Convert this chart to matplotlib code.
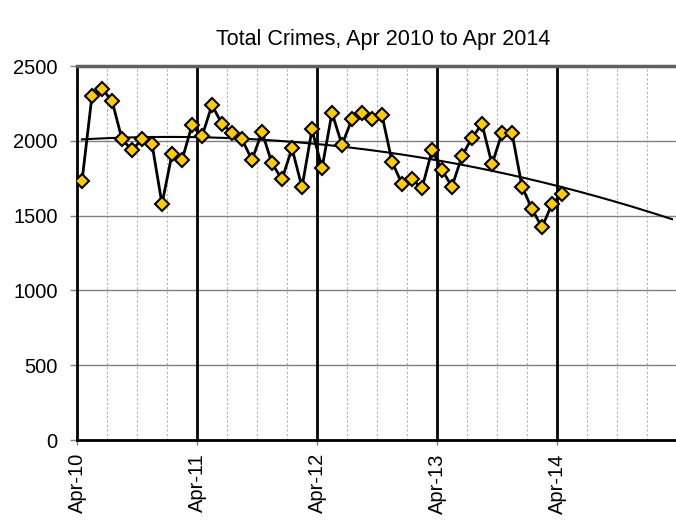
import matplotlib
matplotlib.use("Agg")
import matplotlib.pyplot as plt
import numpy as np
from matplotlib.ticker import MultipleLocator

# Monthly total crimes, Apr 2010 .. Apr 2014
crimes = [1731, 2301, 2346, 2268, 2010, 1938, 2010, 1979, 1578, 1912, 1872, 2103,
          2030, 2239, 2112, 2054, 2010, 1872, 2059, 1849, 1743, 1950, 1689, 2076,
          1816, 2188, 1972, 2146, 2188, 2146, 2172, 1861, 1711, 1743, 1683, 1936,
          1805, 1694, 1898, 2021, 2112, 1843, 2052, 2052, 1694, 1544, 1421, 1578,
          1644]
year_labels = ["Apr-10", "Apr-11", "Apr-12", "Apr-13", "Apr-14"]
title = "Total Crimes, Apr 2010 to Apr 2014"
n_months_axis = 60
forecast = 11

plt.rcParams['font.family'] = ['Liberation Sans', 'DejaVu Sans']

fig = plt.figure(figsize=(6.76, 5.21), dpi=100)
ax = fig.add_axes([77/676, 81/521, 600/676, 374/521])

x = np.arange(len(crimes)) + 0.5

# polynomial (order 2) trendline with forward forecast
coef = np.polyfit(np.arange(1, len(crimes) + 1), crimes, 2)
xt_idx = np.linspace(1, len(crimes) + forecast, 200)
ax.plot(xt_idx - 0.5, np.polyval(coef, xt_idx), color='black', lw=1.5, zorder=3)

ax.plot(x, crimes, color='black', lw=2, marker='D', markersize=7.5,
        markerfacecolor='#FFCC00', markeredgecolor='black', markeredgewidth=1.5,
        zorder=4)

ax.set_xlim(0, n_months_axis)
ax.set_ylim(0, 2500)
ax.yaxis.set_major_locator(MultipleLocator(500))
ax.set_xticks(np.arange(0, len(year_labels) * 12, 12))
ax.set_xticklabels(year_labels, rotation=90)
ax.set_xticks(np.arange(0, n_months_axis + 1, 3), minor=True)

ax.grid(axis='y', which='major', color='#808080', lw=1)
ax.grid(axis='x', which='minor', color='#B0B0B0', lw=0.8, ls=(0, (2, 2)))
for yr in range(12, n_months_axis, 12):
    ax.axvline(yr, color='black', lw=2, zorder=2)
ax.set_axisbelow(True)

for s in ['left', 'bottom']:
    ax.spines[s].set_linewidth(2)
ax.spines['top'].set_color('#606060')
ax.spines['top'].set_linewidth(2.5)
ax.spines['right'].set_visible(False)

ax.tick_params(axis='y', which='major', labelsize=14.5, length=5, width=1,
               color='#808080', pad=9)
ax.tick_params(axis='x', which='minor', length=0)
ax.tick_params(axis='x', which='major', labelsize=14.5, length=3.5, width=1,
               color='#808080', pad=6)

fig.text(383/676, 1 - 40/521, title, ha='center', va='center', fontsize=15.5)

fig.savefig("out.png", dpi=100)
